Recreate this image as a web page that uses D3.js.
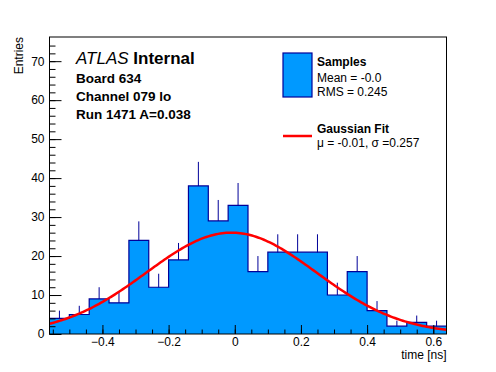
<!DOCTYPE html>
<html>
<head>
<meta charset="utf-8">
<script src="https://cdn.jsdelivr.net/npm/d3@7"></script>
<style>
  body { margin: 0; background: #fff; }
  text { font-family: "Liberation Sans", Arial, sans-serif; }
</style>
</head>
<body>
<div id="chart"></div>
<script>
// histogram: 20 bins of 0.06 ns from -0.56 to 0.64
var binEdges = [-0.56, -0.50, -0.44, -0.38, -0.32, -0.26, -0.20, -0.14, -0.08, -0.02,
                0.04, 0.10, 0.16, 0.22, 0.28, 0.34, 0.40, 0.46, 0.52, 0.58, 0.64];
var counts = [4, 5, 9, 8, 24, 12, 19, 38, 29, 33, 16, 21, 21, 21, 10, 16, 6, 2, 3, 2];

// gaussian fit
var fitMean = -0.01, fitSigma = 0.257, fitPeak = 26;

var xTicks = [-0.4, -0.2, 0, 0.2, 0.4, 0.6];
var yTicks = [0, 10, 20, 30, 40, 50, 60, 70];
var infoLines = ["Board 634", "Channel 079 lo", "Run 1471 A=0.038"];

var W = 496, H = 372;
var margin = { top: 37, right: 49.5, bottom: 38, left: 49.5 },
    width = W - margin.left - margin.right,
    height = H - margin.top - margin.bottom;

var svg = d3.select("#chart").append("svg")
    .attr("width", W).attr("height", H)
    .style("background", "#fff");

var g = svg.append("g")
    .attr("transform", "translate(" + margin.left + "," + margin.top + ")");

var x = d3.scaleLinear().domain([binEdges[0], binEdges[binEdges.length - 1]]).range([0, width]);
var y = d3.scaleLinear().domain([0, 76.2]).range([height, 0]);

var bins = counts.map(function (c, i) {
    return { x0: binEdges[i], x1: binEdges[i + 1], n: c };
});
var stepPts = bins.map(function (d) { return [d.x0, d.n]; });
stepPts.push([binEdges[binEdges.length - 1], counts[counts.length - 1]]);

// error bars (lower half gets covered by the fill)
g.selectAll(".err").data(bins).enter().append("line")
    .attr("x1", function (d) { return x((d.x0 + d.x1) / 2); })
    .attr("x2", function (d) { return x((d.x0 + d.x1) / 2); })
    .attr("y1", function (d) { return y(d.n - Math.sqrt(d.n)); })
    .attr("y2", function (d) { return y(d.n + Math.sqrt(d.n)); })
    .attr("stroke", "#000099")
    .attr("stroke-width", 1);

g.append("path")
    .datum(stepPts)
    .attr("fill", "#0099ff")
    .attr("d", d3.area().curve(d3.curveStepAfter)
        .x(function (d) { return x(d[0]); })
        .y0(y(0))
        .y1(function (d) { return y(d[1]); }));

g.append("path")
    .datum(stepPts)
    .attr("fill", "none")
    .attr("stroke", "#000099")
    .attr("stroke-width", 1.2)
    .attr("d", d3.line().curve(d3.curveStepAfter)
        .x(function (d) { return x(d[0]); })
        .y(function (d) { return y(d[1]); }));

// fit curve
var xs = d3.range(0, 201).map(function (i) {
    return binEdges[0] + i * (binEdges[binEdges.length - 1] - binEdges[0]) / 200;
});
g.append("path")
    .datum(xs)
    .attr("fill", "none")
    .attr("stroke", "#ff0000")
    .attr("stroke-width", 2.5)
    .attr("d", d3.line()
        .x(function (d) { return x(d); })
        .y(function (d) {
            var z = (d - fitMean) / fitSigma;
            return y(fitPeak * Math.exp(-0.5 * z * z));
        }));

// frame
g.append("rect")
    .attr("width", width).attr("height", height)
    .attr("fill", "none").attr("stroke", "#000").attr("stroke-width", 1);

// axes, ticks inward
var minorX = d3.range(-0.55, 0.6401, 0.05);
g.append("g")
    .attr("transform", "translate(0," + height + ")")
    .call(d3.axisBottom(x).tickValues(minorX).tickSize(-4.5).tickFormat(""))
    .call(function (a) { a.select(".domain").remove(); });
g.append("g")
    .attr("transform", "translate(0," + height + ")")
    .call(d3.axisBottom(x).tickValues(xTicks).tickSize(-9).tickPadding(3)
        .tickFormat(function (d) { return d === 0 ? "0" : d3.format(".1f")(d).replace("-", "\u2212"); }))
    .call(function (a) {
        a.select(".domain").remove();
        a.selectAll("text").attr("font-size", 12).attr("fill", "#000")
            .style("font-family", "Liberation Sans, Arial, sans-serif");
    });

var minorY = d3.range(0, 76, 2);
g.append("g")
    .call(d3.axisLeft(y).tickValues(minorY).tickSize(-6).tickFormat(""))
    .call(function (a) { a.select(".domain").remove(); });
g.append("g")
    .call(d3.axisLeft(y).tickValues(yTicks).tickSize(-12).tickPadding(5))
    .call(function (a) {
        a.select(".domain").remove();
        a.selectAll("text").attr("font-size", 12).attr("fill", "#000")
            .style("font-family", "Liberation Sans, Arial, sans-serif");
    });

// axis titles
svg.append("text")
    .attr("x", margin.left + width)
    .attr("y", 359)
    .attr("text-anchor", "end")
    .attr("font-size", 12)
    .text("time [ns]");

svg.append("text")
    .attr("transform", "translate(23," + margin.top + ") rotate(-90)")
    .attr("text-anchor", "end")
    .attr("font-size", 12)
    .text("Entries");

// ATLAS label
var atlas = svg.append("text").attr("x", 76).attr("y", 64).attr("font-size", 17);
atlas.append("tspan").attr("font-style", "italic").text("ATLAS");
atlas.append("tspan").attr("font-weight", "bold").text(" Internal");

svg.selectAll(".info").data(infoLines).enter().append("text")
    .attr("x", 76)
    .attr("y", function (d, i) { return 83 + i * 18; })
    .attr("font-size", 13.5)
    .attr("font-weight", "bold")
    .text(function (d) { return d; });

// legend
var leg = svg.append("g");
leg.append("rect")
    .attr("x", 283).attr("y", 53).attr("width", 29).attr("height", 44)
    .attr("fill", "#0099ff").attr("stroke", "#000099").attr("stroke-width", 1.2);
leg.append("text").attr("x", 317).attr("y", 66).attr("font-size", 12)
    .attr("font-weight", "bold").text("Samples");
leg.append("text").attr("x", 317).attr("y", 82).attr("font-size", 12).text("Mean = -0.0");
leg.append("text").attr("x", 317).attr("y", 96).attr("font-size", 12).text("RMS = 0.245");

leg.append("line")
    .attr("x1", 283).attr("x2", 312).attr("y1", 136).attr("y2", 136)
    .attr("stroke", "#ff0000").attr("stroke-width", 2.5);
leg.append("text").attr("x", 317).attr("y", 133).attr("font-size", 12)
    .attr("font-weight", "bold").text("Gaussian Fit");
leg.append("text").attr("x", 317).attr("y", 147).attr("font-size", 12)
    .text("\u03bc = -0.01, \u03c3 =0.257");
</script>
</body>
</html>
